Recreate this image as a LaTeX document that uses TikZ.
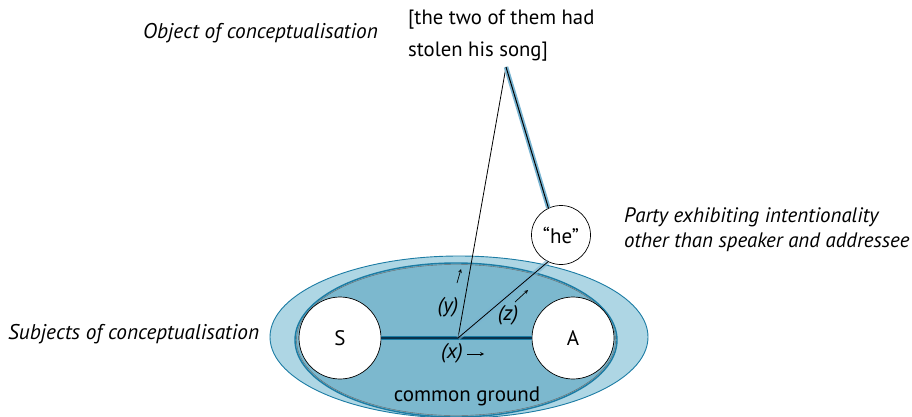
\documentclass[tikz,border=0pt]{standalone}
\usepackage{fontspec}
\setmainfont{PT Sans}
\begin{document}
\begin{tikzpicture}[x=1pt,y=-1pt,
  lbl/.style={font=\fontsize{21.3}{25}\selectfont\itshape, inner sep=0pt, anchor=west},
  txt/.style={font=\fontsize{21}{25}\selectfont, inner sep=0pt},
  person/.style={circle, draw=black, fill=white, line width=0.7pt, inner sep=0pt},
  smallarrow/.style={-stealth, line width=0.7pt}]
\definecolor{outerfill}{RGB}{174,214,228}
\definecolor{innerfill}{RGB}{124,184,206}
\definecolor{rim}{RGB}{28,124,164}
\definecolor{glow}{RGB}{120,180,210}
\definecolor{deep}{RGB}{10,50,75}
\useasboundingbox (0,0) rectangle (912,417);
\begin{scope}
\clip (0,0) rectangle (912,417);
\fill[outerfill, draw=rim, line width=0.9pt] (459,337) ellipse [x radius=189, y radius=81];
\fill[innerfill, draw=rim, line width=1.4pt] (456,340) ellipse [x radius=161, y radius=77];
\draw[black!60, line width=0.4pt] (456,340) ellipse [x radius=159.5, y radius=75.5];
\end{scope}
% persons
\node[person, minimum size=82pt] (S) at (340,338) {};
\node[person, minimum size=82pt] (A) at (573,338) {};
\node[person, minimum size=59pt] (he) at (561,235) {};
\node[txt] at (S.center) {S};
\node[txt] at (A.center) {A};
\node[txt] at (he.center) {“he”};
\coordinate (X) at (458,338);
\coordinate (apex) at (506,67);
% S-A line
\draw[rim, line width=4pt] (S.east) -- (A.west);
\draw[deep, line width=1.3pt] (S.east) -- (A.west);
% y line
\draw[black, line width=0.8pt] (X) -- (apex);
% z line
\draw[glow, line width=5pt, opacity=0.6] (X) -- (he.244);
\draw[black, line width=0.8pt] (X) -- (he.244);
% apex-he line
\draw[glow, line width=4.5pt] (apex) -- (he.115);
\draw[black, line width=1pt] (apex) -- (he.115);
% labels on lines
\node[lbl, anchor=center] (ly) at (448,307) {(y)};
\draw[smallarrow] (457,283) -- (461,269);
\node[lbl, anchor=center] (lz) at (508,315) {(z)};
\draw[smallarrow] (515,302) -- (528,290);
\node[lbl, anchor=center] (lx) at (452,353) {(x)};
\draw[smallarrow] (467,354) -- (484,354);
% texts
\node[lbl] (obj) at (143,33) {Object of conceptualisation};
\node[txt, anchor=west, align=left, font=\fontsize{20.7}{32}\selectfont] (sent) at (408,36) {[the two of them had\\stolen his song]};
\node[lbl, align=left, font=\fontsize{20.9}{25}\selectfont\itshape] (party) at (624,230) {Party exhibiting intentionality\\other than speaker and addressee};
\node[lbl] (subj) at (8,334) {Subjects of conceptualisation};
\node[txt] (cg) at (467,396) {common ground};
\end{tikzpicture}
\end{document}
